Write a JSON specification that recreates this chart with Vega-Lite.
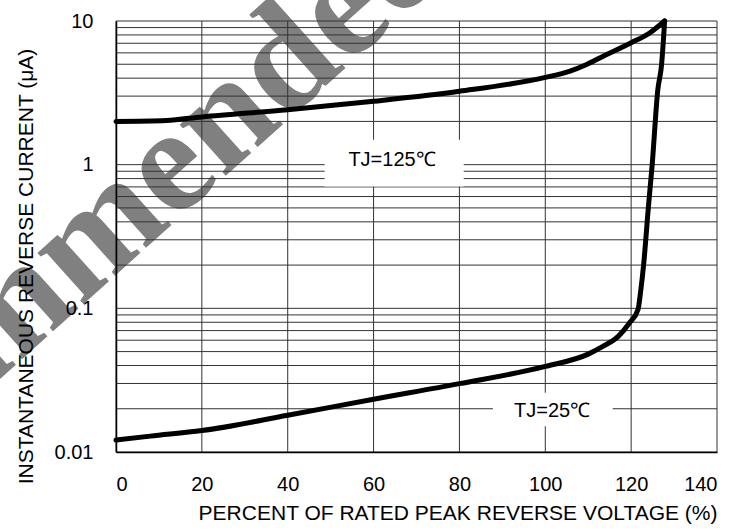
{
  "$schema": "https://vega.github.io/schema/vega-lite/v6.json",
  "autosize": {"type": "none"},
  "padding": {"left": 116, "top": 21, "right": 32, "bottom": 80},
  "width": 601,
  "height": 431,
  "background": "white",
  "config": {
    "view": {"stroke": null},
    "axisX": {
      "grid": false, "ticks": false, "domain": true, "domainColor": "black", "domainWidth": 1.5,
      "labelFont": "Liberation Sans", "labelFontSize": 20, "labelColor": "black", "labelPadding": 22,
      "titleFont": "Liberation Sans", "titleFontSize": 21, "titleFontWeight": "normal", "titleColor": "black",
      "titleAnchor": "end", "titlePadding": 8
    },
    "axisY": {
      "grid": false, "ticks": false, "domain": true, "domainColor": "black", "domainWidth": 1.5,
      "labelFont": "Liberation Sans", "labelFontSize": 20, "labelColor": "black", "labelPadding": 23,
      "titleFont": "Liberation Sans", "titleFontSize": 21, "titleFontWeight": "normal", "titleColor": "black",
      "titleY": 245, "titleAlign": "center", "titlePadding": 18
    }
  },
  "layer": [
    {
      "data": {"values": [{"x": -2.5, "y": 0.147, "t": "Recommended"}]},
      "mark": {"type": "text", "font": "Liberation Serif", "fontWeight": "bold", "fontSize": 150, "color": "#808080", "angle": -42, "align": "center", "baseline": "alphabetic"},
      "encoding": {
        "x": {"field": "x", "type": "quantitative", "scale": {"domain": [0, 140], "nice": false, "zero": false}, "axis": {"title": "PERCENT OF RATED PEAK REVERSE VOLTAGE (%)", "values": [0, 20, 40, 60, 80, 100, 120, 140], "zindex": 1}},
        "y": {"field": "y", "type": "quantitative", "scale": {"type": "log", "domain": [0.01, 10], "nice": false, "zero": false}, "axis": {"title": "INSTANTANEOUS REVERSE CURRENT (μA)", "values": [0.01, 0.1, 1, 10], "format": "~g", "zindex": 1}},
        "text": {"field": "t"}
      }
    },
    {
      "data": {"values": [
        {"y": 0.01}, {"y": 0.02}, {"y": 0.03}, {"y": 0.04}, {"y": 0.05}, {"y": 0.06}, {"y": 0.07}, {"y": 0.08}, {"y": 0.09},
        {"y": 0.1}, {"y": 0.2}, {"y": 0.3}, {"y": 0.4}, {"y": 0.5}, {"y": 0.6}, {"y": 0.7}, {"y": 0.8}, {"y": 0.9},
        {"y": 1}, {"y": 2}, {"y": 3}, {"y": 4}, {"y": 5}, {"y": 6}, {"y": 7}, {"y": 8}, {"y": 9}, {"y": 10}
      ]},
      "mark": {"type": "rule", "color": "#333333", "strokeWidth": 1},
      "encoding": {
        "y": {"field": "y", "type": "quantitative", "scale": {"type": "log", "domain": [0.01, 10], "nice": false, "zero": false}, "axis": {"title": "INSTANTANEOUS REVERSE CURRENT (μA)", "values": [0.01, 0.1, 1, 10], "format": "~g", "zindex": 1}}
      }
    },
    {
      "data": {"values": [{"x": 0}, {"x": 20}, {"x": 40}, {"x": 60}, {"x": 80}, {"x": 100}, {"x": 120}, {"x": 140}]},
      "mark": {"type": "rule", "color": "#333333", "strokeWidth": 1},
      "encoding": {
        "x": {"field": "x", "type": "quantitative", "scale": {"domain": [0, 140], "nice": false, "zero": false}, "axis": {"title": "PERCENT OF RATED PEAK REVERSE VOLTAGE (%)", "values": [0, 20, 40, 60, 80, 100, 120, 140], "zindex": 1}}
      }
    },
    {
      "data": {"values": [
        {"x": 48.6, "x2": 81.0, "y": 0.705, "y2": 1.49},
        {"x": 87.8, "x2": 115.7, "y": 0.0151, "y2": 0.0258}
      ]},
      "mark": {"type": "rect", "color": "white"},
      "encoding": {
        "x": {"field": "x", "type": "quantitative", "scale": {"domain": [0, 140], "nice": false, "zero": false}, "axis": {"title": "PERCENT OF RATED PEAK REVERSE VOLTAGE (%)", "values": [0, 20, 40, 60, 80, 100, 120, 140], "zindex": 1}},
        "x2": {"field": "x2"},
        "y": {"field": "y", "type": "quantitative", "scale": {"type": "log", "domain": [0.01, 10], "nice": false, "zero": false}, "axis": {"title": "INSTANTANEOUS REVERSE CURRENT (μA)", "values": [0.01, 0.1, 1, 10], "format": "~g", "zindex": 1}},
        "y2": {"field": "y2"}
      }
    },
    {
      "data": {"values": [
        {"x": 64.3, "y": 1.07, "t": "TJ=125℃"},
        {"x": 101.6, "y": 0.0192, "t": "TJ=25℃"}
      ]},
      "mark": {"type": "text", "font": "Liberation Sans", "fontSize": 20, "color": "black", "align": "center", "baseline": "middle"},
      "encoding": {
        "x": {"field": "x", "type": "quantitative", "scale": {"domain": [0, 140], "nice": false, "zero": false}, "axis": {"title": "PERCENT OF RATED PEAK REVERSE VOLTAGE (%)", "values": [0, 20, 40, 60, 80, 100, 120, 140], "zindex": 1}},
        "y": {"field": "y", "type": "quantitative", "scale": {"type": "log", "domain": [0.01, 10], "nice": false, "zero": false}, "axis": {"title": "INSTANTANEOUS REVERSE CURRENT (μA)", "values": [0.01, 0.1, 1, 10], "format": "~g", "zindex": 1}},
        "text": {"field": "t"}
      }
    },
    {
      "data": {"values": [
        {"s": "25", "x": 0, "y": 0.0121},
        {"s": "25", "x": 8, "y": 0.0129},
        {"s": "25", "x": 20, "y": 0.0141},
        {"s": "25", "x": 40, "y": 0.018},
        {"s": "25", "x": 60, "y": 0.0233},
        {"s": "25", "x": 80, "y": 0.0299},
        {"s": "25", "x": 100, "y": 0.0394},
        {"s": "25", "x": 110, "y": 0.048},
        {"s": "25", "x": 113.4, "y": 0.0543},
        {"s": "25", "x": 117, "y": 0.0638},
        {"s": "25", "x": 119.6, "y": 0.079},
        {"s": "25", "x": 121.6, "y": 0.098},
        {"s": "25", "x": 122.2, "y": 0.13},
        {"s": "25", "x": 122.9, "y": 0.2},
        {"s": "25", "x": 124.0, "y": 0.5},
        {"s": "25", "x": 124.9, "y": 1.0},
        {"s": "25", "x": 126.2, "y": 3.3},
        {"s": "25", "x": 127.1, "y": 5.0},
        {"s": "25", "x": 127.8, "y": 10},
        {"s": "125", "x": 0, "y": 2.0},
        {"s": "125", "x": 11.7, "y": 2.03},
        {"s": "125", "x": 20, "y": 2.15},
        {"s": "125", "x": 40, "y": 2.41},
        {"s": "125", "x": 60, "y": 2.76},
        {"s": "125", "x": 80, "y": 3.24},
        {"s": "125", "x": 100, "y": 4.05},
        {"s": "125", "x": 105.6, "y": 4.46},
        {"s": "125", "x": 109.5, "y": 4.96},
        {"s": "125", "x": 113.4, "y": 5.67},
        {"s": "125", "x": 119.9, "y": 7.03},
        {"s": "125", "x": 124.3, "y": 8.25},
        {"s": "125", "x": 127.8, "y": 10}
      ]},
      "mark": {"type": "line", "color": "black", "strokeWidth": 5, "interpolate": "monotone", "strokeJoin": "round", "strokeCap": "round"},
      "encoding": {
        "x": {"field": "x", "type": "quantitative", "scale": {"domain": [0, 140], "nice": false, "zero": false}, "axis": {"title": "PERCENT OF RATED PEAK REVERSE VOLTAGE (%)", "values": [0, 20, 40, 60, 80, 100, 120, 140], "zindex": 1}},
        "y": {"field": "y", "type": "quantitative", "scale": {"type": "log", "domain": [0.01, 10], "nice": false, "zero": false}, "axis": {"title": "INSTANTANEOUS REVERSE CURRENT (μA)", "values": [0.01, 0.1, 1, 10], "format": "~g", "zindex": 1}},
        "detail": {"field": "s"}
      }
    }
  ]
}
